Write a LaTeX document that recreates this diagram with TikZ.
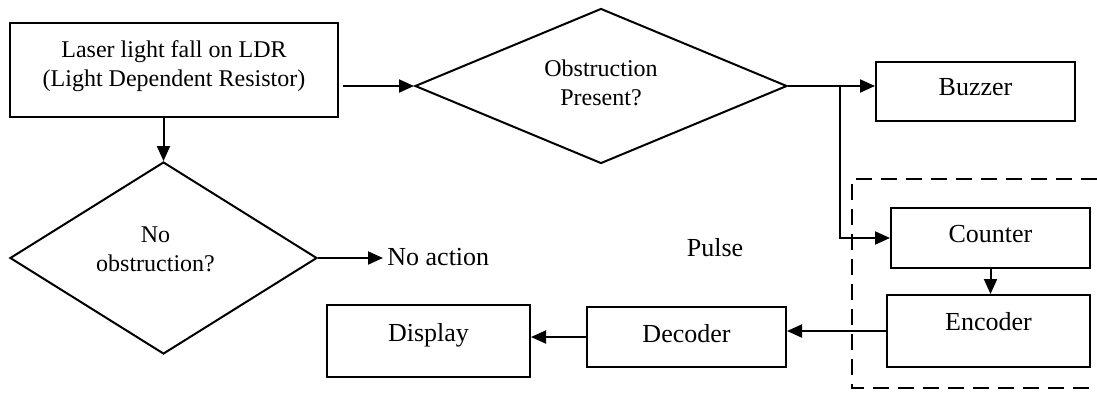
\documentclass[tikz,border=0pt]{standalone}
\usepackage{fontspec}
\setmainfont{Liberation Serif}
\usetikzlibrary{shapes.geometric,arrows.meta}
\begin{document}
\begin{tikzpicture}[x=0.5pt,y=-0.5pt,
  every node/.style={font=\fontsize{13}{15}\selectfont},
  box/.style={draw, line width=1pt, rectangle, inner sep=0pt},
  dec/.style={draw, line width=1pt, diamond, inner sep=0pt, aspect=2},
  small/.style={font=\fontsize{12}{14.5}\selectfont, align=center},
  arr/.style={line width=1pt, -{Triangle[length=7.5pt,width=6.5pt]}},
  frame/.style={line width=1pt, dash pattern=on 8pt off 4.5pt},
]
\useasboundingbox (0,0) rectangle (1097,392);

% input stage and the two decisions
\node[box, minimum width=164pt, minimum height=47pt,
      label={[small, yshift=2pt]center:Laser light fall on LDR\\(Light Dependent Resistor)}]
      (ldr) at (174,70) {};
\node[dec, minimum width=186pt, minimum height=77.5pt,
      label={[small, yshift=1.75pt]center:Obstruction\\Present?}]
      (obs) at (601,86) {};
\node[dec, minimum width=153.5pt, minimum height=96pt,
      label={[small, xshift=-4pt, yshift=4.25pt]center:No\\obstruction?}]
      (noobs) at (163.5,258) {};
\node[anchor=west, inner sep=2pt] (noact) at (383,257) {No action};

% output blocks
\node[box, minimum width=99.5pt, minimum height=29.5pt,
      label={[yshift=2pt]center:Buzzer}] (buzzer) at (975.5,91.5) {};
\node[box, minimum width=99.5pt, minimum height=30pt,
      label={[yshift=2pt]center:Counter}] (counter) at (990.5,238) {};
\node[box, minimum width=101.5pt, minimum height=36pt,
      label={[yshift=4.5pt]center:Encoder}] (encoder) at (988.5,331) {};
\node[box, minimum width=99.5pt, minimum height=30pt,
      label={[yshift=1.5pt]center:Decoder}] (decoder) at (686.5,337) {};
\node[box, minimum width=101.5pt, minimum height=36pt,
      label={[yshift=3pt]center:Display}] (display) at (428.5,341) {};
\node (pulse) at (715,248) {Pulse};

% branch point on the line leaving the decision
\coordinate (br) at (840,86);

% connectors
\draw[arr, shorten <=2pt] (ldr.east |- obs.west) -- (obs.west);
\draw[arr] (ldr.south -| noobs.north) -- (noobs.north);
\draw[arr] (noobs.east) -- (noobs.east -| noact.west);
\draw[arr] (obs.east) -- (obs.east -| buzzer.west);
\draw[arr] (br) |- (counter.west);
\draw[arr] (counter.south) -- (counter.south |- encoder.north);
\draw[arr] (encoder.west) -- (encoder.west -| decoder.east);
\draw[arr] (decoder.west) -- (decoder.west -| display.east);

% dashed frame round the counting stage
\draw[frame] (1097,179) -| (852,388) -- (1097,388);
\end{tikzpicture}
\end{document}
